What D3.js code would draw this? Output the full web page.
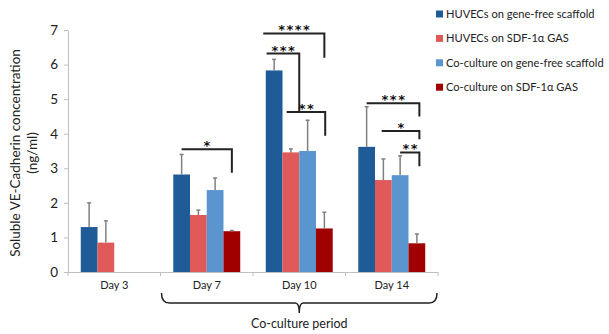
<!DOCTYPE html>
<html>
<head>
<meta charset="utf-8">
<script src="https://cdn.jsdelivr.net/npm/d3@7"></script>
<style>
  body { margin: 0; background: #fff; }
  svg { font-family: Lato, "Open Sans", sans-serif; }
</style>
</head>
<body>
<div id="chart"></div>
<script>
// Chart data
const days = ['Day 3', 'Day 7', 'Day 10', 'Day 14'];
const seriesNames = [
    'HUVECs on gene-free scaffold',
    'HUVECs on SDF-1\u03b1 GAS',
    'Co-culture on gene-free scaffold',
    'Co-culture on SDF-1\u03b1 GAS'
];
const seriesColors = ['#1f5b97', '#e05a5a', '#5a95cf', '#a00000'];
// mean values per series, one entry per day (null = not measured)
const huvecFree  = [1.30, 2.82, 5.83, 3.62];
const huvecSdf   = [0.85, 1.65, 3.46, 2.66];
const coFree     = [null, 2.37, 3.50, 2.80];
const coSdf      = [null, 1.18, 1.26, 0.83];
// upper error bar ends
const huvecFreeErr = [2.00, 3.40, 6.15, 4.78];
const huvecSdfErr  = [1.48, 1.79, 3.56, 3.27];
const coFreeErr    = [null, 2.72, 4.39, 3.36];
const coSdfErr     = [null, 1.20, 1.73, 1.10];
const yTicks = [0, 1, 2, 3, 4, 5, 6, 7];
// significance brackets: day, series span, bracket level, drop end, label
const brackets = [
    { day: 'Day 7',  from: 0, to: 3, top: 3.55, drop: 2.87, label: '*' },
    { day: 'Day 10', from: -0.65, to: 3, top: 6.90, drop: 6.20, label: '****' },
    { day: 'Day 10', from: -0.45, to: 1.5, top: 6.32, drop: 4.63, label: '***' },
    { day: 'Day 10', from: 0.75, to: 3.05, top: 4.63, drop: 3.94, label: '**' },
    { day: 'Day 14', from: 0, to: 3.15, top: 4.88, drop: 4.50, label: '***' },
    { day: 'Day 14', from: 0.9, to: 3.15, top: 4.08, drop: 3.84, label: '*' },
    { day: 'Day 14', from: 2, to: 3.15, top: 3.46, drop: 3.06, label: '**' }
];

const allValues = [huvecFree, huvecSdf, coFree, coSdf];
const allErrors = [huvecFreeErr, huvecSdfErr, coFreeErr, coSdfErr];

const width = 609;
const height = 334;
const margin = { left: 68, right: 171, top: 30, bottom: 62 };

const svg = d3.select('#chart')
    .append('svg')
    .attr('width', width)
    .attr('height', height);

const x = d3.scaleBand()
    .domain(days)
    .range([margin.left, width - margin.right])
    .paddingInner(0.276)
    .paddingOuter(0.138);

const xs = d3.scaleBand()
    .domain(d3.range(seriesNames.length))
    .range([0, x.bandwidth()]);

const y = d3.scaleLinear()
    .domain([0, 7])
    .range([height - margin.bottom, margin.top]);

// x position of a (fractional) series index inside a day group
function seriesX(day, idx) {
    return x(day) + xs.step() * (idx + 0.5);
}

// Bars
const bars = [];
allValues.forEach((vals, s) => {
    vals.forEach((v, i) => {
        if (v !== null) bars.push({ s: s, day: days[i], v: v, err: allErrors[s][i] });
    });
});

svg.append('g')
    .selectAll('rect')
    .data(bars)
    .enter()
    .append('rect')
    .attr('x', d => x(d.day) + xs(d.s))
    .attr('y', d => y(d.v))
    .attr('width', xs.bandwidth())
    .attr('height', d => y(0) - y(d.v))
    .attr('fill', d => seriesColors[d.s]);

// Error bars (upper only)
const err = svg.append('g')
    .attr('stroke', '#808080')
    .attr('stroke-width', 1.5);

err.selectAll('line.stem')
    .data(bars)
    .enter()
    .append('line')
    .attr('class', 'stem')
    .attr('x1', d => seriesX(d.day, d.s))
    .attr('x2', d => seriesX(d.day, d.s))
    .attr('y1', d => y(d.v))
    .attr('y2', d => y(d.err));

err.selectAll('line.cap')
    .data(bars)
    .enter()
    .append('line')
    .attr('class', 'cap')
    .attr('x1', d => seriesX(d.day, d.s) - 2)
    .attr('x2', d => seriesX(d.day, d.s) + 2)
    .attr('y1', d => y(d.err))
    .attr('y2', d => y(d.err));

// Axes
const yAxis = svg.append('g')
    .attr('transform', `translate(${margin.left},0)`)
    .call(d3.axisLeft(y).tickValues(yTicks).tickFormat(d3.format('d')).tickSize(4).tickSizeOuter(0));
yAxis.select('.domain').attr('stroke', '#bfbfbf');
yAxis.selectAll('.tick line').attr('stroke', '#bfbfbf');
yAxis.selectAll('.tick text')
    .attr('x', -10)
    .attr('font-size', '13.5px')
    .attr('font-family', 'Lato, sans-serif')
    .attr('fill', '#222');

const xAxis = svg.append('g')
    .attr('transform', `translate(0,${y(0)})`)
    .call(d3.axisBottom(x).tickSize(0).tickSizeOuter(0));
xAxis.select('.domain').attr('stroke', '#bfbfbf');
xAxis.selectAll('.tick text')
    .attr('dy', '1.3em')
    .attr('font-size', '11px')
    .attr('font-family', 'Lato, sans-serif')
    .attr('fill', '#222');

// category boundary ticks
const boundaries = days.map(d => x(d) - x.step() * x.paddingInner() / 2).concat([x.range()[1]]);
svg.append('g')
    .selectAll('line')
    .data(boundaries)
    .enter()
    .append('line')
    .attr('x1', d => d)
    .attr('x2', d => d)
    .attr('y1', y(0))
    .attr('y2', y(0) + 4)
    .attr('stroke', '#bfbfbf');

// Y axis title
svg.append('text')
    .attr('transform', `translate(20,${(y(0) + y(7)) / 2 + 2}) rotate(-90)`)
    .attr('text-anchor', 'middle')
    .attr('font-size', '13.5px')
    .attr('fill', '#222')
    .text('Soluble VE-Cadherin concentration');
svg.append('text')
    .attr('transform', `translate(37,${(y(0) + y(7)) / 2 + 2}) rotate(-90)`)
    .attr('text-anchor', 'middle')
    .attr('font-size', '13.5px')
    .attr('fill', '#222')
    .text('(ng/ml)');

// Significance brackets
const br = svg.append('g');
brackets.forEach(b => {
    const x1 = seriesX(b.day, b.from);
    const x2 = seriesX(b.day, b.to);
    br.append('path')
        .attr('d', `M${x1},${y(b.top)}H${x2}V${y(b.drop)}`)
        .attr('fill', 'none')
        .attr('stroke', '#222')
        .attr('stroke-width', 2);
    br.append('text')
        .attr('x', (x1 + x2) / 2 + 1)
        .attr('y', y(b.top) + 1)
        .attr('text-anchor', 'middle')
        .attr('font-family', '"DejaVu Sans", sans-serif')
        .attr('font-size', '13px')
        .attr('font-weight', 'bold')
        .attr('letter-spacing', '1.5px')
        .attr('fill', '#111')
        .text(b.label);
});

// Curly brace under Day 7 - Day 14
const bx1 = x('Day 7') - x.step() * x.paddingInner() / 2 + 1;
const bx2 = x.range()[1] - 1;
const bmid = (bx1 + bx2) / 2;
const by = y(0) + 31;
svg.append('path')
    .attr('d', `M${bx1},${by - 10}Q${bx1},${by} ${bx1 + 8},${by}H${bmid - 4}` +
        `Q${bmid},${by} ${bmid},${by + 10}Q${bmid},${by} ${bmid + 4},${by}` +
        `H${bx2 - 8}Q${bx2},${by} ${bx2},${by - 10}`)
    .attr('fill', 'none')
    .attr('stroke', '#222')
    .attr('stroke-width', 1.5);
svg.append('text')
    .attr('x', bmid)
    .attr('y', by + 25)
    .attr('text-anchor', 'middle')
    .attr('font-size', '12.5px')
    .attr('fill', '#222')
    .text('Co-culture period');

// Legend
const legend = svg.append('g')
    .selectAll('g')
    .data(seriesNames)
    .enter()
    .append('g')
    .attr('transform', (d, i) => `translate(436,${14 + i * 24.4})`);
legend.append('rect')
    .attr('x', 0)
    .attr('y', -3.5)
    .attr('width', 7)
    .attr('height', 7)
    .attr('fill', (d, i) => seriesColors[i]);
legend.append('text')
    .attr('x', 10)
    .attr('dy', '0.35em')
    .attr('font-size', '11.1px')
    .attr('fill', '#222')
    .text(d => d);
</script>
</body>
</html>
